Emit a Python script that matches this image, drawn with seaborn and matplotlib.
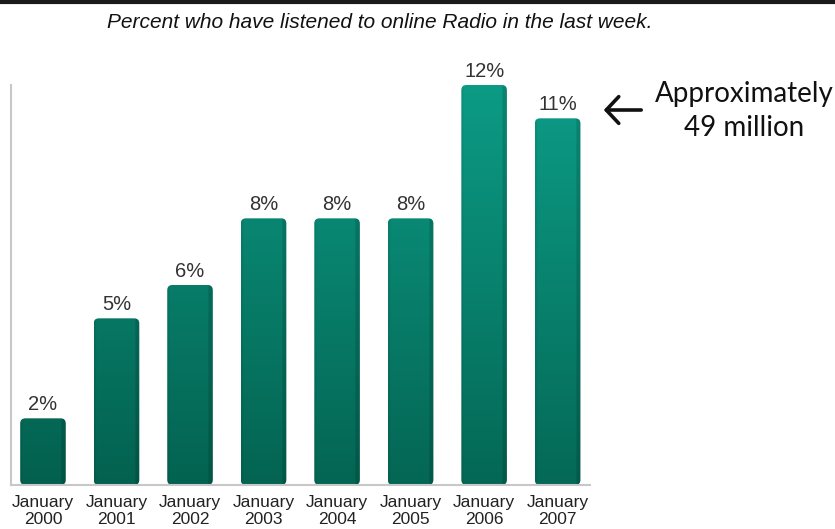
import numpy as np
import matplotlib
matplotlib.use("Agg")
import matplotlib.pyplot as plt
import matplotlib.colors as mcolors
from matplotlib.patches import FancyBboxPatch
import seaborn as sns

# Weekly online radio listening, January of each year
years = ["2000", "2001", "2002", "2003", "2004", "2005", "2006", "2007"]
tick_labels = [f"January\n{y}" for y in years]
percent = [2, 5, 6, 8, 8, 8, 12, 11]

W, H = 835, 529
DPI = 100
sns.set_theme(style="white")
plt.rcParams["font.family"] = "Liberation Sans"
SANS = ["Liberation Sans", "DejaVu Sans"]

fig = plt.figure(figsize=(W / DPI, H / DPI), dpi=DPI)
ax = fig.add_axes([11 / W, 1 - 485 / H, 579 / W, 400 / H])

sns.barplot(x=tick_labels, y=percent, color="#087a66", width=0.62, ax=ax,
            saturation=1)

XLIM = (-0.435, 7.44)
YLIM = (0, 12.0)
ax.set_xlim(*XLIM)
ax.set_ylim(*YLIM)

# Bar fill: one gradient over the whole plot height, darker near the baseline
# and lighter toward the top, with a slight brightening to the right.
low = np.array(mcolors.to_rgb("#03604e"))
high = np.array(mcolors.to_rgb("#0c9c86"))

x_unit_px = 579 / (XLIM[1] - XLIM[0])
y_unit_px = 400 / (YLIM[1] - YLIM[0])
aspect = x_unit_px / y_unit_px
bars = [p for p in ax.patches]
for idx, (patch, val) in enumerate(zip(bars, percent)):
    x0, y0 = patch.get_x(), patch.get_y()
    w, h = patch.get_width(), patch.get_height()
    patch.set_visible(False)
    rounded = FancyBboxPatch((x0, y0), w, h,
                             boxstyle="round,pad=0,rounding_size=0.07",
                             mutation_aspect=aspect, transform=ax.transData,
                             facecolor="none", edgecolor="none")
    ax.add_patch(rounded)
    ny, nx = 120, 40
    yy = np.linspace(y0 + h, y0, ny)[:, None, None] / YLIM[1]
    frac = np.clip(yy * 0.85 + 0.15 * idx / (len(percent) - 1), 0, 1)
    img = low * (1 - frac) + high * frac
    img = np.repeat(img, nx, axis=1)
    xs = np.linspace(0, 1, nx)[None, :, None]
    shade = np.where(xs > 0.9, 0.86, 1.0) * np.where(xs < 0.05, 0.94, 1.0)
    img = np.clip(img * shade, 0, 1)
    im = ax.imshow(img, extent=(x0, x0 + w, y0, y0 + h), origin="upper",
                   aspect="auto", interpolation="bilinear", zorder=2)
    im.set_clip_path(rounded)
    ax.annotate(f"{val}%", xy=(x0 + w / 2, h), xytext=(0, 3),
                textcoords="offset points", ha="center", va="bottom",
                fontsize=14.5, color="#333333", family=SANS,
                annotation_clip=False)

ax.set_xlim(*XLIM)
ax.set_ylim(*YLIM)

ax.set_yticks([])
ax.tick_params(axis="x", length=0, pad=7, labelsize=12.5, colors="#222222")
for lbl in ax.get_xticklabels():
    lbl.set_linespacing(1.2)
    lbl.set_family(SANS)
for side in ["top", "right"]:
    ax.spines[side].set_visible(False)
for side in ["left", "bottom"]:
    ax.spines[side].set_color("#c8c8c8")
    ax.spines[side].set_linewidth(1.5)
ax.set_facecolor("white")

# Header rule and title
fig.add_artist(plt.Line2D([0, 1], [1 - 1.5 / H, 1 - 1.5 / H], color="#1a1a1a", lw=3))
fig.text(380 / W, 1 - 22 / H, "Percent who have listened to online Radio in the last week.",
         ha="center", va="center", fontsize=15, style="italic", color="#111111",
         family=SANS)

# Callout for the latest value
fig.text(744 / W, 1 - 111 / H, "Approximately\n49 million", ha="center", va="center",
         fontsize=20, family="Lato", color="#111111", linespacing=1.42)
ax_arrow = fig.add_axes([0, 0, 1, 1], facecolor="none")
ax_arrow.set_axis_off()
ax_arrow.set_xlim(0, W)
ax_arrow.set_ylim(H, 0)
ax_arrow.annotate("", xy=(601, 110), xytext=(644, 110),
                  arrowprops=dict(arrowstyle="->,head_length=0.75,head_width=0.8",
                                  lw=2.6, color="#111111"))

fig.savefig("out.png", dpi=DPI, facecolor="white")
